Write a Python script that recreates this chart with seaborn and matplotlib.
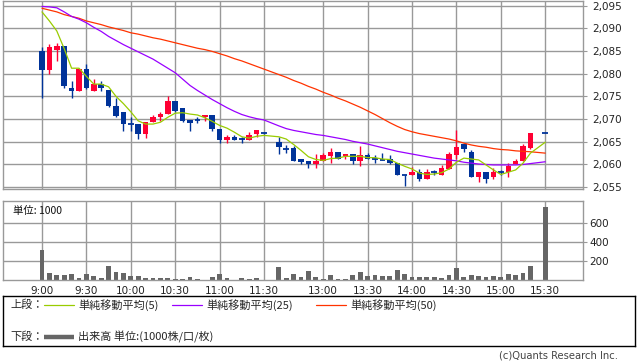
import matplotlib
matplotlib.use("Agg")
import matplotlib.pyplot as plt
import seaborn as sns
import pandas as pd

# ---------------- data ----------------
times = ["9:00", "9:05", "9:10", "9:15", "9:20", "9:25", "9:30", "9:35", "9:40", "9:45",
         "9:50", "9:55", "10:00", "10:05", "10:10", "10:15", "10:20", "10:25", "10:30", "10:35",
         "10:40", "10:45", "10:50", "10:55", "11:00", "11:05", "11:10", "11:15", "11:20", "11:25",
         "11:30",
         "12:30", "12:35", "12:40", "12:45", "12:50", "12:55", "13:00", "13:05", "13:10", "13:15",
         "13:20", "13:25", "13:30", "13:35", "13:40", "13:45", "13:50", "13:55", "14:00", "14:05",
         "14:10", "14:15", "14:20", "14:25", "14:30", "14:35", "14:40", "14:45", "14:50", "14:55",
         "15:00", "15:05", "15:10", "15:15", "15:20", "15:30"]

opens = [2085.0, 2080.8, 2085.3, 2086.0, 2076.8, 2076.2, 2081.1, 2076.2, 2077.7, 2076.3,
         2072.9, 2071.5, 2068.9, 2069.0, 2066.8, 2069.3, 2070.4, 2071.2, 2074.0, 2072.4,
         2069.8, 2069.7, 2070.4, 2071.0, 2067.8, 2065.3, 2066.1, 2065.7, 2065.4, 2066.7,
         2066.9,
         2064.9, 2063.3, 2063.6, 2061.2, 2060.8, 2060.2, 2060.8, 2061.8, 2062.8, 2061.8,
         2062.3, 2060.8, 2062.0, 2061.3, 2060.9, 2061.2, 2060.3, 2057.7, 2057.7, 2058.4,
         2056.7, 2058.4, 2057.6, 2059.1, 2062.1, 2064.4, 2062.8, 2057.2, 2058.4, 2057.2,
         2058.4, 2058.4, 2060.1, 2060.7, 2063.6, 2066.9]
highs = [2085.9, 2086.5, 2086.8, 2086.0, 2078.4, 2081.1, 2082.1, 2078.8, 2078.4, 2076.3,
         2074.6, 2071.5, 2070.5, 2069.0, 2069.4, 2070.9, 2071.5, 2075.0, 2074.0, 2072.4,
         2069.8, 2070.5, 2071.0, 2071.0, 2067.8, 2066.5, 2066.4, 2066.0, 2067.2, 2067.5,
         2067.0,
         2066.1, 2064.3, 2064.0, 2061.2, 2060.8, 2062.3, 2062.5, 2063.6, 2062.8, 2062.3,
         2062.3, 2064.1, 2062.5, 2062.1, 2062.5, 2062.0, 2060.3, 2057.7, 2059.4, 2059.0,
         2059.0, 2058.8, 2059.9, 2062.8, 2067.6, 2064.4, 2063.2, 2058.4, 2058.4, 2059.2,
         2058.8, 2060.3, 2061.2, 2064.5, 2066.9, 2066.9]
lows = [2074.7, 2079.9, 2082.8, 2076.8, 2074.7, 2076.2, 2076.7, 2076.2, 2076.2, 2072.6,
        2070.4, 2067.4, 2067.4, 2065.7, 2065.8, 2069.3, 2069.5, 2071.2, 2071.6, 2069.3,
        2067.3, 2069.2, 2069.6, 2067.4, 2064.8, 2064.7, 2065.4, 2064.7, 2065.4, 2066.0,
        2066.8,
        2062.3, 2062.5, 2060.7, 2060.2, 2059.2, 2059.2, 2060.8, 2060.3, 2061.2, 2061.2,
        2060.2, 2059.7, 2061.2, 2060.4, 2060.9, 2060.2, 2057.7, 2055.2, 2057.7, 2056.3,
        2056.7, 2057.6, 2057.6, 2059.1, 2061.3, 2062.7, 2057.2, 2056.2, 2056.0, 2056.7,
        2057.6, 2057.2, 2060.1, 2060.7, 2063.3, 2066.9]
closes = [2080.8, 2085.9, 2086.0, 2077.3, 2076.2, 2081.1, 2076.8, 2077.7, 2076.8, 2072.8,
          2070.7, 2068.9, 2068.9, 2066.8, 2069.3, 2070.5, 2071.1, 2074.0, 2071.7, 2069.6,
          2069.2, 2069.7, 2071.0, 2067.8, 2065.4, 2066.0, 2065.5, 2065.7, 2066.5, 2067.5,
          2066.9,
          2063.8, 2063.3, 2060.7, 2060.5, 2060.2, 2060.8, 2062.0, 2062.8, 2061.2, 2062.3,
          2060.8, 2062.0, 2061.2, 2061.3, 2060.9, 2060.3, 2057.7, 2057.7, 2058.4, 2056.7,
          2058.4, 2058.4, 2059.2, 2062.4, 2063.9, 2063.3, 2057.2, 2058.4, 2056.7, 2058.4,
          2058.4, 2059.7, 2060.8, 2064.1, 2066.9, 2066.9]
volumes = [316, 70, 53, 53, 63, 21, 63, 42, 21, 147,
           84, 70, 42, 42, 21, 21, 21, 21, 11, 11,
           32, 11, 4, 32, 63, 21, 4, 21, 11, 21,
           3,
           137, 21, 63, 32, 95, 32, 11, 53, 11, 11,
           53, 81, 42, 53, 42, 42, 105, 63, 32, 32,
           32, 32, 21, 53, 126, 32, 53, 42, 32, 42,
           32, 63, 53, 74, 147, 765]
ma5 = [2093.6, 2091.6, 2089.4, 2085.5, 2081.2, 2081.2, 2079.4, 2077.7, 2077.7, 2077.1,
       2075.0, 2073.4, 2071.6, 2069.6, 2068.9, 2068.9, 2069.3, 2070.4, 2071.3, 2071.4,
       2071.1, 2070.9, 2070.3, 2069.5, 2068.6, 2068.0, 2067.1, 2066.1, 2065.8, 2066.2,
       2066.4,
       2066.1, 2065.6, 2064.4, 2063.1, 2061.7, 2061.1, 2060.9, 2061.3, 2061.4, 2061.8,
       2061.8, 2061.8, 2061.5, 2061.5, 2061.2, 2061.1, 2060.3, 2059.6, 2059.0, 2058.1,
       2057.8, 2057.9, 2058.2, 2059.0, 2060.5, 2061.4, 2061.2, 2061.0, 2059.9, 2058.8,
       2057.8, 2058.3, 2058.8, 2060.3, 2062.5, 2064.9]
ma25 = [2094.8, 2094.7, 2094.5, 2093.6, 2092.6, 2092.0, 2091.2, 2090.2, 2089.3, 2088.2,
        2087.3, 2086.4, 2085.6, 2084.8, 2084.0, 2083.2, 2082.2, 2081.2, 2080.2, 2078.8,
        2077.4, 2076.3, 2075.3, 2074.3, 2073.4, 2072.5, 2071.7, 2071.0, 2070.5, 2070.1,
        2069.8,
        2068.5, 2067.9, 2067.5, 2067.2, 2066.9, 2066.6, 2066.4, 2066.1, 2065.8, 2065.5,
        2065.1, 2064.8, 2064.5, 2064.1, 2063.7, 2063.3, 2062.9, 2062.6, 2062.3, 2062.0,
        2061.7, 2061.4, 2061.2, 2061.0, 2060.8, 2060.5, 2060.3, 2060.1, 2060.0, 2059.9,
        2059.9, 2059.9, 2059.9, 2060.0, 2060.2, 2060.6]
ma50 = [2094.4, 2094.0, 2093.6, 2093.0, 2092.6, 2092.2, 2091.6, 2091.2, 2090.8, 2090.3,
        2089.9, 2089.5, 2089.0, 2088.7, 2088.3, 2087.9, 2087.6, 2087.2, 2086.8, 2086.4,
        2086.0, 2085.6, 2085.3, 2084.9, 2084.4, 2083.9, 2083.3, 2082.8, 2082.2, 2081.6,
        2081.0,
        2079.8, 2079.2, 2078.5, 2077.9, 2077.2, 2076.6, 2075.9, 2075.3, 2074.6, 2074.0,
        2073.3, 2072.6, 2071.8, 2071.0, 2070.1, 2069.2, 2068.4, 2067.7, 2067.2, 2066.8,
        2066.5, 2066.2, 2065.9, 2065.6, 2065.2, 2064.7, 2064.3, 2064.0, 2063.8, 2063.5,
        2063.3, 2063.2, 2063.0, 2062.9, 2062.8, 2062.5]

tick_labels = ["9:00", "9:30", "10:00", "10:30", "11:00", "11:30",
               "13:00", "13:30", "14:00", "14:30", "15:00", "15:30"]
price_ticks = [2055, 2060, 2065, 2070, 2075, 2080, 2085, 2090, 2095]
volume_ticks = [200, 400, 600]


# time -> position on the broken intraday time axis (5-minute slots, lunch gap)
def slot(t):
    h, m = map(int, t.split(":"))
    mins = h * 60 + m
    if mins <= 11 * 60 + 30:
        return (mins - 540) / 5
    return (mins - 750) / 5 + 32


xs = [slot(t) for t in times]
xt = [slot(t) for t in tick_labels]

sns.set_style("white")
plt.rcParams["font.family"] = ["DejaVu Sans", "Noto Sans CJK JP"]
CJK = ["Noto Sans CJK JP", "DejaVu Sans"]

W, H = 638, 362
fig = plt.figure(figsize=(W / 100, H / 100), dpi=100)


def rect(x0, y0, x1, y1):
    return [x0 / W, 1 - y1 / H, (x1 - x0) / W, (y1 - y0) / H]


GRID = "#999999"
RED = "#ff0033"
BLUE = "#003399"

df = pd.DataFrame({"x": xs, "o": opens, "h": highs, "l": lows, "c": closes,
                   "v": volumes, "ma5": ma5, "ma25": ma25, "ma50": ma50})

# ---------------- upper panel ----------------
ax1 = fig.add_axes(rect(3, 1, 583, 189))

for _, r in df.iterrows():
    col = RED if r.c > r.o else BLUE
    ax1.vlines(r.x, r.l, r.h, color=col, lw=1.0, zorder=2)
    if abs(r.c - r.o) < 0.05:
        ax1.hlines(r.c, r.x - 0.38, r.x + 0.38, color=col, lw=1.3, zorder=2)
    else:
        ax1.bar(r.x, abs(r.c - r.o), bottom=min(r.o, r.c), width=0.74,
                color=col, edgecolor="none", zorder=2)

sns.lineplot(data=df, x="x", y="ma50", color="#ff3300", lw=0.9, sort=False, ax=ax1, zorder=3)
sns.lineplot(data=df, x="x", y="ma25", color="#9900ff", lw=0.9, sort=False, ax=ax1, zorder=3)
sns.lineplot(data=df, x="x", y="ma5", color="#99cc00", lw=0.9, sort=False, ax=ax1, zorder=3)

ax1.set_xlim(-5.27, 73.1)
ax1.set_ylim(2054.6, 2096.0)
ax1.set_xticks(xt)
ax1.set_xticklabels([])
ax1.set_yticks(price_ticks)
ax1.set_yticklabels([f"{v:,}" for v in price_ticks])
ax1.yaxis.tick_right()
ax1.set_xlabel("")
ax1.set_ylabel("")
ax1.grid(True, color=GRID, lw=1.0, zorder=0)
ax1.set_axisbelow(True)
ax1.tick_params(axis="y", direction="out", length=3, color=GRID, pad=4, labelsize=7.5,
                labelcolor="#222222")
ax1.tick_params(axis="x", direction="out", length=3, color=GRID)
for s in ax1.spines.values():
    s.set_color(GRID)
    s.set_linewidth(1.0)

# ---------------- lower panel ----------------
ax2 = fig.add_axes(rect(3, 201, 583, 280))
ax2.bar(df["x"], df["v"], width=0.64, color="#666666", edgecolor="none", zorder=2)
ax2.set_xlim(-5.27, 73.1)
ax2.set_ylim(0, 832)
ax2.set_xticks(xt)
ax2.set_xticklabels(tick_labels)
ax2.set_yticks(volume_ticks)
ax2.set_yticklabels([str(v) for v in volume_ticks])
ax2.yaxis.tick_right()
ax2.grid(True, color=GRID, lw=1.0, zorder=0)
ax2.set_axisbelow(True)
ax2.tick_params(axis="both", direction="out", length=3, color=GRID, pad=1.5, labelsize=7.5,
                labelcolor="#222222")
for s in ax2.spines.values():
    s.set_color(GRID)
    s.set_linewidth(1.0)
ax2.text(10 / 580, 0.88, "単位: 1000", transform=ax2.transAxes, fontsize=7.5,
         family=CJK, va="center", ha="left", color="#111111", zorder=5)

# ---------------- legend box ----------------
axl = fig.add_axes(rect(3, 296, 635, 346))
axl.set_xlim(3, 635)
axl.set_ylim(346, 296)
axl.set_xticks([])
axl.set_yticks([])
for s in axl.spines.values():
    s.set_color("#000000")
    s.set_linewidth(1.0)

y_up, y_dn = 305, 337
axl.text(10, y_up, "上段：", family=CJK, fontsize=8, va="center", ha="left")
items = [(44, "#99cc00", "単純移動平均(5)"),
         (172, "#9900ff", "単純移動平均(25)"),
         (316, "#ff3300", "単純移動平均(50)")]
for x0, col, lab in items:
    axl.plot([x0, x0 + 30], [y_up, y_up], color=col, lw=0.9)
    axl.text(x0 + 34, y_up, lab, family=CJK, fontsize=8, va="center", ha="left")
axl.text(10, y_dn, "下段：", family=CJK, fontsize=8, va="center", ha="left")
axl.plot([44, 74], [y_dn, y_dn], color="#666666", lw=3.2, solid_capstyle="butt")
axl.text(78, y_dn, "出来高 単位:(1000株/口/枚)", family=CJK, fontsize=8, va="center", ha="left")

fig.text(618 / W, 1 - 356 / H, "(c)Quants Research Inc.", fontsize=7.2, ha="right",
         va="center", color="#444444")

fig.savefig("out.png", dpi=100)
